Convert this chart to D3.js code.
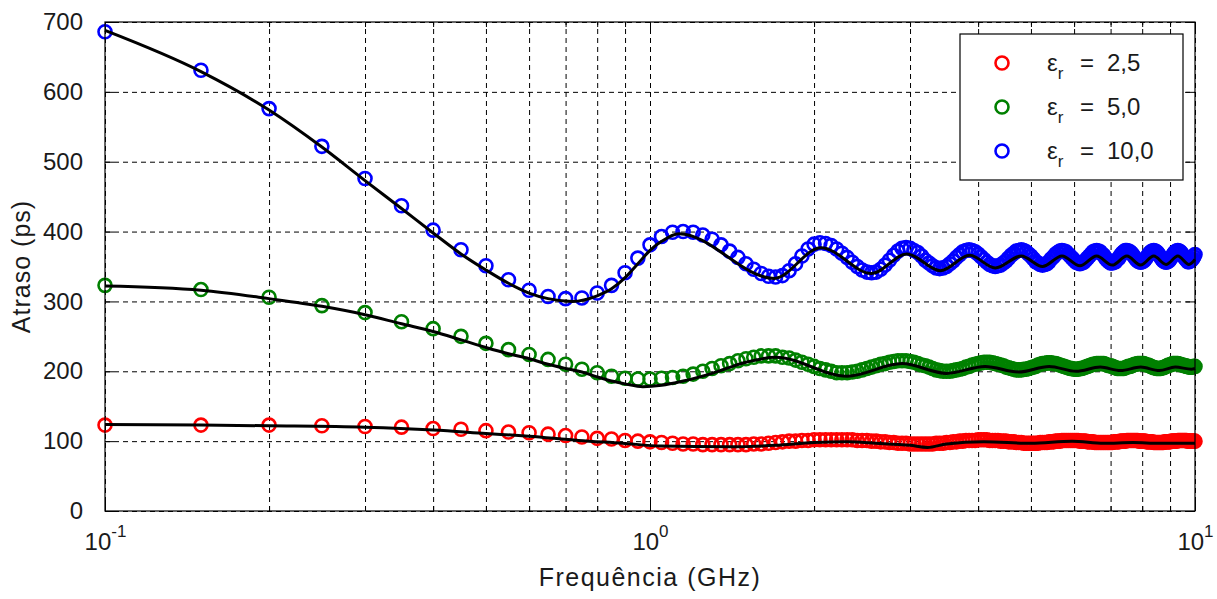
<!DOCTYPE html>
<html>
<head>
<meta charset="utf-8">
<script src="https://cdn.jsdelivr.net/npm/d3@7"></script>
<style>
  body { margin: 0; background: #fff; }
  svg text { font-family: "Liberation Sans", Arial, sans-serif; fill: #1a1a1a; }
</style>
</head>
<body>
<div id="chart"></div>
<script>
// frequency grid of the measured points (GHz)
const freq = [
  0.10,0.15,0.20,0.25,0.30,0.35,0.40,0.45,0.50,0.55,0.60,0.65,0.70,0.75,0.80,0.85,0.90,0.95,1.00,1.05,
  1.10,1.15,1.20,1.25,1.30,1.35,1.40,1.45,1.50,1.55,1.60,1.65,1.70,1.75,1.80,1.85,1.90,1.95,2.00,2.05,
  2.10,2.15,2.20,2.25,2.30,2.35,2.40,2.45,2.50,2.55,2.60,2.65,2.70,2.75,2.80,2.85,2.90,2.95,3.00,3.05,
  3.10,3.15,3.20,3.25,3.30,3.35,3.40,3.45,3.50,3.55,3.60,3.65,3.70,3.75,3.80,3.85,3.90,3.95,4.00,4.05,
  4.10,4.15,4.20,4.25,4.30,4.35,4.40,4.45,4.50,4.55,4.60,4.65,4.70,4.75,4.80,4.85,4.90,4.95,5.00,5.05,
  5.10,5.15,5.20,5.25,5.30,5.35,5.40,5.45,5.50,5.55,5.60,5.65,5.70,5.75,5.80,5.85,5.90,5.95,6.00,6.05,
  6.10,6.15,6.20,6.25,6.30,6.35,6.40,6.45,6.50,6.55,6.60,6.65,6.70,6.75,6.80,6.85,6.90,6.95,7.00,7.05,
  7.10,7.15,7.20,7.25,7.30,7.35,7.40,7.45,7.50,7.55,7.60,7.65,7.70,7.75,7.80,7.85,7.90,7.95,8.00,8.05,
  8.10,8.15,8.20,8.25,8.30,8.35,8.40,8.45,8.50,8.55,8.60,8.65,8.70,8.75,8.80,8.85,8.90,8.95,9.00,9.05,
  9.10,9.15,9.20,9.25,9.30,9.35,9.40,9.45,9.50,9.55,9.60,9.65,9.70,9.75,9.80,9.85,9.90,9.95,10.00
];

// measured delay (ps), er = 2,5
const delayEr25 = [
  123,123,123,122,121,120,118,117,115,113,112,110,108,106,104,103,101,100,99,98,
  97,96,96,95,95,95,95,95,95,96,96,97,98,99,100,100,101,101,102,102,
  102,102,102,102,102,102,101,101,101,100,100,99,99,98,98,97,97,97,96,96,
  96,96,96,96,96,97,97,97,98,98,99,99,100,100,101,101,101,101,102,102,
  102,102,101,101,101,101,100,100,100,99,99,99,98,98,98,97,97,97,97,97,
  97,97,98,98,98,98,99,99,99,100,100,100,101,101,101,101,101,101,101,101,
  101,100,100,100,100,99,99,99,99,98,98,98,98,98,98,98,98,98,98,98,
  99,99,99,99,100,100,100,100,101,101,101,101,101,101,101,101,100,100,100,100,
  100,99,99,99,99,99,98,98,98,98,98,98,98,98,99,99,99,99,99,100,
  100,100,100,100,101,101,101,101,101,101,101,101,100,100,100,100,100,100,100
];

// measured delay (ps), er = 5,0
const delayEr50 = [
  323,317,306,294,284,271,261,250,240,231,224,217,210,203,198,193,190,189,189,190,
  191,193,196,200,204,208,211,215,218,220,222,222,222,220,219,216,213,210,207,204,
  202,200,198,198,198,199,200,202,204,206,208,210,211,213,214,215,215,215,214,213,
  211,209,208,206,204,202,201,200,200,200,201,202,203,204,206,207,209,210,211,212,
  213,213,213,212,211,210,209,208,206,205,204,203,202,202,202,203,203,204,205,206,
  207,209,210,211,211,212,212,212,211,211,210,209,208,207,206,205,204,204,203,203,
  203,204,204,205,206,207,208,209,210,210,211,211,211,211,211,210,209,208,208,207,
  206,205,204,204,204,204,204,205,206,207,207,208,209,210,210,211,211,211,211,211,
  210,209,209,208,207,206,205,205,204,204,204,204,205,205,206,207,208,209,209,210,
  211,211,211,211,211,210,210,209,209,208,208,207,207,206,206,206,206,207,207
];

// measured delay (ps), er = 10,0
const delayEr100 = [
  686,631,576,522,476,437,402,374,351,331,316,307,304,305,312,323,341,362,381,393,
  399,400,399,395,389,381,372,363,354,346,340,336,335,337,344,354,365,375,382,384,
  383,380,375,369,363,356,350,345,342,341,342,346,352,359,366,372,376,377,376,373,
  370,365,359,355,351,348,347,348,350,354,358,363,367,371,373,374,373,371,368,364,
  360,356,353,351,350,351,352,355,358,362,366,369,372,373,374,373,371,368,365,361,
  357,355,353,352,353,354,357,361,364,368,370,372,373,372,371,368,365,362,359,356,
  355,354,355,356,359,362,365,368,371,372,373,372,371,368,366,362,359,357,355,355,
  356,357,360,362,366,369,371,373,373,372,371,369,366,363,360,358,357,356,357,358,
  360,363,366,369,371,372,373,372,371,369,366,363,360,358,357,356,357,358,360,363,
  366,369,371,372,373,372,371,369,366,364,361,359,357,357,358,359,361,364,367
];

// simulated curves (black lines), read at knots
const lineEr25F = [0.1,0.15,0.2,0.3,0.4,0.5,0.6,0.74,0.89,1.05,1.4,1.7,2.0,2.3,2.6,3.0,3.23,3.5,4.1,5.0,5.95,6.8,7.7,8.6,9.5,10];
const lineEr25V = [124,123,122,120,116,111,107,101,97,93,92,94,98,99,97,94,91,96,99,97,100,97,98,97,97,97];
const lineEr50F = [0.1,0.15,0.2,0.25,0.3,0.35,0.4,0.45,0.5,0.55,0.6,0.65,0.7,0.75,0.8,0.85,0.9,0.97,1.05,1.15,1.3,1.5,1.7,2.3,2.9,3.5,4.12,4.75,5.4,6.05,6.7,7.3,7.95,8.6,9.2,9.85,10];
const lineEr50V = [322,316,304,293,281,268,257,245,234,225,218,210,204,199,192,186,182,178,180,186,197,213,220,193,211,197,207,199,207,200,206,201,206,201,206,203,204];
const lineEr100F = [0.1,0.15,0.2,0.25,0.3,0.35,0.4,0.45,0.5,0.55,0.6,0.65,0.72,0.8,0.85,0.9,0.95,1.0,1.05,1.13,1.69,2.06,2.55,2.96,3.41,3.86,4.3,4.8,5.25,5.7,6.15,6.6,7.05,7.5,7.95,8.4,8.85,9.3,9.75,10];
const lineEr100V = [688,629,574,521,473,433,398,368,345,326,312,304,300,308,318,334,354,373,386,397,333,377,340,368,344,366,348,365,350,365,351,365,352,365,352,365,353,365,353,360];

const legendLabels = ['2,5', '5,0', '10,0'];
const yTicks = [0, 100, 200, 300, 400, 500, 600, 700];
const xMajor = [0.1, 1, 10];
const xExp = ['-1', '0', '1'];
const xMinor = [0.2,0.3,0.4,0.5,0.6,0.7,0.8,0.9,2,3,4,5,6,7,8,9];

const width = 1217, height = 599;
const margin = { top: 22, right: 22, bottom: 88, left: 105 };
const innerW = width - margin.left - margin.right;
const innerH = height - margin.top - margin.bottom;

const svg = d3.select('#chart').append('svg')
  .attr('width', width)
  .attr('height', height);

const g = svg.append('g')
  .attr('transform', `translate(${margin.left},${margin.top})`);

const x = d3.scaleLog().domain([0.1, 10]).range([0, innerW]);
const y = d3.scaleLinear().domain([0, 700]).range([innerH, 0]);

// grid
const gridX = g.append('g')
  .attr('transform', `translate(0,${innerH})`)
  .call(d3.axisBottom(x).tickValues(xMajor.concat(xMinor)).tickSize(-innerH).tickFormat(''));
const gridY = g.append('g')
  .call(d3.axisLeft(y).tickValues(yTicks).tickSize(-innerW).tickFormat(''));
[gridX, gridY].forEach(gr => {
  gr.select('.domain').remove();
  gr.selectAll('line').attr('stroke', '#000').attr('stroke-width', 1).attr('stroke-dasharray', '5,4');
});

// ticks on all four sides
const tickStyle = sel => {
  sel.select('.domain').remove();
  sel.selectAll('line').attr('stroke', '#000').attr('stroke-width', 1);
};
g.append('g').attr('transform', `translate(0,${innerH})`)
  .call(d3.axisBottom(x).tickValues(xMajor).tickSize(-9).tickFormat('')).call(tickStyle);
g.append('g').attr('transform', `translate(0,${innerH})`)
  .call(d3.axisBottom(x).tickValues(xMinor).tickSize(-5).tickFormat('')).call(tickStyle);
g.append('g')
  .call(d3.axisTop(x).tickValues(xMajor).tickSize(-9).tickFormat('')).call(tickStyle);
g.append('g')
  .call(d3.axisTop(x).tickValues(xMinor).tickSize(-5).tickFormat('')).call(tickStyle);
g.append('g').attr('transform', `translate(${innerW},0)`)
  .call(d3.axisRight(y).tickValues(yTicks).tickSize(-9).tickFormat('')).call(tickStyle);

// y axis with labels
const yAxis = g.append('g')
  .call(d3.axisLeft(y).tickValues(yTicks).tickSize(-9).tickPadding(22));
tickStyle(yAxis);
yAxis.selectAll('text')
  .attr('font-size', 24)
  .attr('font-family', '"Liberation Sans", Arial, sans-serif')
  .attr('fill', '#1a1a1a');

// x axis with 10^n labels
const xAxis = g.append('g')
  .attr('transform', `translate(0,${innerH})`)
  .call(d3.axisBottom(x).tickValues(xMajor).tickSize(0).tickPadding(22).tickFormat(''));
xAxis.select('.domain').remove();
xAxis.selectAll('.tick').each(function(d, i) {
  const t = d3.select(this).select('text')
    .attr('font-size', 24)
    .attr('font-family', '"Liberation Sans", Arial, sans-serif')
    .attr('fill', '#1a1a1a')
    .attr('text-anchor', 'middle');
  t.append('tspan').text('10');
  t.append('tspan').attr('dy', -13).attr('font-size', 17).text(xExp[i]);
});

// measured points
const series = [
  { values: delayEr25, color: '#ff0000', lf: lineEr25F, lv: lineEr25V },
  { values: delayEr50, color: '#008000', lf: lineEr50F, lv: lineEr50V },
  { values: delayEr100, color: '#0000ff', lf: lineEr100F, lv: lineEr100V }
];

const plot = g.append('g');
series.forEach(s => {
  plot.append('g').selectAll('circle')
    .data(freq)
    .join('circle')
    .attr('cx', (d) => x(d))
    .attr('cy', (d, i) => y(s.values[i]))
    .attr('r', 6.5)
    .attr('fill', 'none')
    .attr('stroke', s.color)
    .attr('stroke-width', 2.6);
});

const line = d3.line()
  .x(d => x(d[0]))
  .y(d => y(d[1]))
  .curve(d3.curveMonotoneX);

series.forEach(s => {
  plot.append('path')
    .datum(s.lf.map((f, i) => [f, s.lv[i]]))
    .attr('d', line)
    .attr('fill', 'none')
    .attr('stroke', '#000')
    .attr('stroke-width', 3);
});

// box
g.append('rect')
  .attr('width', innerW).attr('height', innerH)
  .attr('fill', 'none').attr('stroke', '#000').attr('stroke-width', 1.2);

// legend
const legend = svg.append('g').attr('transform', 'translate(960,34)');
legend.append('rect')
  .attr('width', 223).attr('height', 146)
  .attr('fill', '#fff').attr('stroke', '#000').attr('stroke-width', 1.2);
series.forEach((s, i) => {
  const ly = 29 + i * 44;
  legend.append('circle')
    .attr('cx', 42).attr('cy', ly).attr('r', 6.5)
    .attr('fill', 'none').attr('stroke', s.color).attr('stroke-width', 2.6);
  const t = legend.append('text')
    .attr('x', 87).attr('y', ly + 8)
    .attr('font-size', 24);
  t.append('tspan').text('ε');
  t.append('tspan').attr('dy', 8).attr('font-size', 17).text('r');
  t.append('tspan').attr('x', 120).attr('dy', -8).text('=');
  t.append('tspan').attr('x', 147).text(legendLabels[i]);
});

// axis titles
svg.append('text')
  .attr('x', margin.left + innerW / 2).attr('y', 586)
  .attr('text-anchor', 'middle')
  .attr('font-size', 25)
  .attr('letter-spacing', 1.5)
  .text('Frequência (GHz)');
svg.append('text')
  .attr('transform', `translate(30,${margin.top + innerH / 2}) rotate(-90)`)
  .attr('text-anchor', 'middle')
  .attr('font-size', 25)
  .attr('letter-spacing', 1)
  .text('Atraso (ps)');
</script>
</body>
</html>
